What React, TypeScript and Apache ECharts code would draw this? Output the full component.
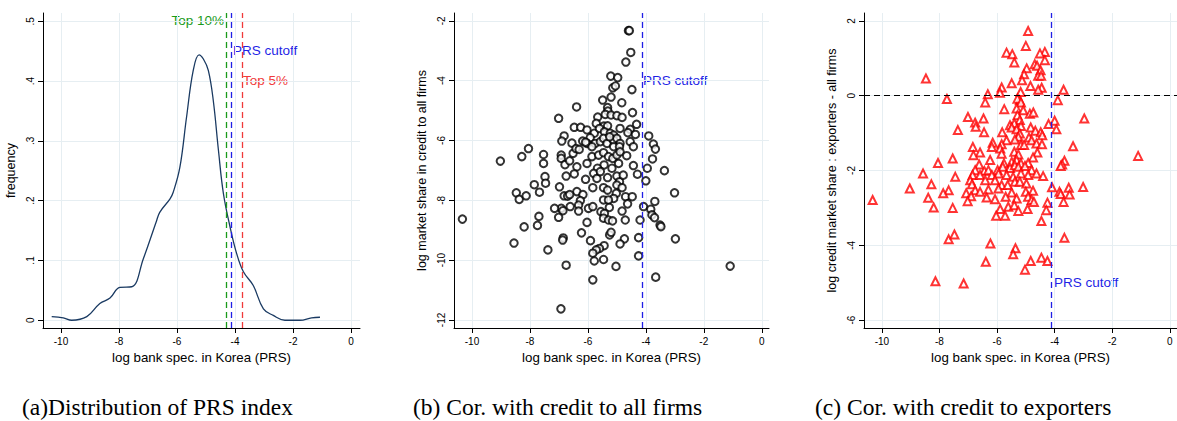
import { useEffect, useRef } from 'react';
import * as echarts from 'echarts';

// density of the PRS index (panel a)
const densityPoints: [number, number][] = [
  [-10.32, 0.006], [-9.92, 0.004], [-9.63, 0], [-9.11, 0.006], [-8.66, 0.028], [-8.31, 0.037],
  [-7.97, 0.055], [-7.56, 0.056], [-7.16, 0.103], [-6.7, 0.167], [-6.59, 0.181], [-6.24, 0.203],
  [-6.13, 0.214], [-5.9, 0.256], [-5.67, 0.34], [-5.44, 0.418], [-5.24, 0.444], [-5.09, 0.437],
  [-4.92, 0.418], [-4.75, 0.368], [-4.57, 0.284], [-4.4, 0.212], [-4.17, 0.156], [-3.94, 0.111],
  [-3.71, 0.081], [-3.37, 0.058], [-3.02, 0.019], [-2.68, 0.008], [-2.28, 0], [-1.76, 0],
  [-1.36, 0.004], [-1.07, 0.005],
];

const top10 = -4.31;
const prsCutoff = -4.13;
const top5 = -3.76;

// panel b: log market share in credit to all firms
const allFirms: [number, number][] = [
  [-4.6, -2.33], [-4.57, -2.33], [-4.52, -3.06], [-4.69, -3.38], [-5.21, -3.85], [-4.97, -3.9],
  [-5.14, -4.24], [-5.05, -4.18], [-4.48, -4.3], [-5.2, -4.55], [-5.49, -4.65], [-4.83, -4.74],
  [-6.39, -4.88], [-5.32, -4.9], [-5.31, -5.02], [-4.46, -5.07], [-7.01, -5.26], [-5.66, -5.22],
  [-5.4, -5.13], [-5.2, -5.15], [-5.0, -5.17], [-4.82, -5.23], [-5.71, -5.43], [-5.45, -5.52],
  [-5.32, -5.51], [-4.32, -5.46], [-6.47, -5.56], [-6.25, -5.56], [-6.03, -5.65], [-5.78, -5.76],
  [-5.6, -5.6], [-5.43, -5.71], [-5.23, -5.76], [-5.11, -5.82], [-4.89, -5.6], [-4.54, -5.63],
  [-4.62, -5.74], [-4.36, -5.8], [-6.82, -5.85], [-6.9, -6.02], [-6.55, -6.09], [-6.18, -6.02],
  [-5.92, -5.91], [-5.75, -6.1], [-6.03, -6.1], [-5.86, -6.21], [-5.57, -6.04], [-5.46, -5.93],
  [-5.34, -6.1], [-5.11, -5.99], [-5.0, -5.93], [-4.89, -6.1], [-5.25, -5.88], [-5.11, -6.21],
  [-4.91, -6.21], [-4.54, -6.04], [-4.43, -6.21], [-3.9, -5.85], [-3.74, -6.12], [-3.67, -6.29],
  [-8.05, -6.27], [-8.28, -6.54], [-9.02, -6.69], [-7.53, -6.47], [-7.53, -6.77], [-6.92, -6.49],
  [-6.92, -6.6], [-6.79, -6.81], [-6.63, -6.68], [-6.51, -6.43], [-6.41, -6.27], [-6.3, -6.3],
  [-6.08, -6.06], [-5.86, -6.54], [-5.63, -6.49], [-5.46, -6.41], [-5.29, -6.54], [-5.14, -6.6],
  [-5.0, -6.49], [-4.89, -6.38], [-4.66, -6.51], [-4.94, -6.77], [-5.17, -6.93], [-5.44, -6.82],
  [-5.67, -6.93], [-5.8, -7.1], [-6.03, -6.77], [-6.38, -6.88], [-4.43, -6.84], [-3.95, -6.93],
  [-3.77, -6.62], [-3.36, -7.01], [-7.48, -7.21], [-7.46, -7.43], [-6.75, -7.19], [-6.47, -7.12],
  [-6.08, -7.3], [-5.69, -7.27], [-5.57, -7.04], [-5.32, -7.24], [-5.0, -7.19], [-4.91, -7.38],
  [-4.78, -7.16], [-4.29, -7.13], [-4.0, -7.35], [-7.85, -7.48], [-7.67, -7.73], [-6.98, -7.55],
  [-6.38, -7.71], [-6.17, -7.81], [-5.83, -7.58], [-5.46, -7.58], [-5.32, -7.66], [-5.0, -7.49],
  [-4.82, -7.58], [-5.02, -7.77], [-5.11, -7.94], [-5.46, -7.99], [-5.29, -7.99], [-4.7, -7.88],
  [-4.47, -7.88], [-3.01, -7.75], [-8.47, -7.75], [-8.37, -7.97], [-8.13, -7.85], [-6.82, -7.85],
  [-6.7, -7.86], [-6.63, -7.81], [-6.26, -8.01], [-6.32, -8.16], [-6.92, -8.27], [-7.15, -8.27],
  [-6.86, -8.35], [-6.61, -8.21], [-6.32, -8.36], [-5.98, -8.27], [-5.83, -8.21], [-5.26, -8.24],
  [-4.63, -8.12], [-4.82, -8.36], [-4.08, -8.21], [-3.83, -8.3], [-3.69, -8.04], [-5.55, -8.38],
  [-5.43, -8.44], [-5.46, -8.6], [-5.29, -8.66], [-5.15, -8.69], [-6.03, -8.74], [-4.71, -8.66],
  [-4.2, -8.66], [-3.79, -8.49], [-3.7, -8.58], [-3.51, -8.83], [-3.48, -8.88], [-7.01, -8.57],
  [-7.69, -8.54], [-7.74, -8.84], [-8.2, -8.89], [-6.22, -9.09], [-5.25, -9.16], [-5.2, -9.07],
  [-4.74, -9.29], [-4.25, -9.25], [-2.98, -9.29], [-6.85, -9.26], [-6.87, -9.33], [-8.55, -9.43],
  [-7.38, -9.66], [-5.91, -9.35], [-4.89, -9.46], [-5.44, -9.52], [-5.6, -9.61], [-5.71, -9.66],
  [-5.83, -9.77], [-4.25, -9.86], [-5.78, -10.03], [-5.46, -9.98], [-6.75, -10.17], [-5.03, -10.21],
  [-1.09, -10.2], [-3.66, -10.57], [-5.83, -10.66], [-6.93, -11.63], [-10.33, -8.63],
];

// panel c: log credit market share, exporters minus all firms
const exporters: [number, number][] = [
  [-4.92, 1.73], [-5.0, 1.33], [-5.67, 1.15], [-5.47, 1.11], [-4.34, 1.17], [-4.51, 1.13],
  [-4.34, 0.95], [-5.4, 0.89], [-4.69, 0.84], [-4.61, 0.8], [-4.97, 0.73], [-4.49, 0.68],
  [-5.06, 0.57], [-4.57, 0.53], [-4.47, 0.53], [-5.13, 0.41], [-8.47, 0.46], [-5.49, 0.33],
  [-4.84, 0.26], [-5.84, 0.22], [-4.45, 0.21], [-4.57, 0.16], [-3.69, 0.16], [-5.9, 0.08],
  [-5.18, 0.1], [-6.32, 0.04], [-7.74, -0.09], [-5.21, -0.12], [-5.29, -0.08], [-3.89, -0.12],
  [-6.41, -0.18], [-5.75, -0.36], [-5.17, -0.18], [-5.32, -0.34], [-5.09, -0.39], [-4.86, -0.48],
  [-4.74, -0.45], [-5.29, -0.52], [-7.01, -0.57], [-6.47, -0.61], [-2.97, -0.61], [-5.21, -0.65],
  [-6.76, -0.72], [-4.0, -0.67], [-4.21, -0.76], [-5.55, -0.79], [-5.4, -0.74], [-5.17, -0.81],
  [-6.74, -0.83], [-5.49, -0.85], [-4.83, -0.85], [-4.67, -0.94], [-3.94, -0.9], [-7.36, -0.92],
  [-5.32, -0.9], [-5.82, -0.98], [-5.21, -1.01], [-4.48, -0.98], [-4.43, -1.06], [-6.45, -0.98],
  [-5.26, -1.1], [-5.38, -1.17], [-4.89, -1.12], [-4.8, -1.19], [-5.67, -1.19], [-6.15, -1.26],
  [-5.84, -1.3], [-5.17, -1.32], [-5.06, -1.32], [-4.63, -1.28], [-4.44, -1.3], [-3.36, -1.35],
  [-6.18, -1.37], [-5.89, -1.41], [-6.84, -1.37], [-5.4, -1.5], [-5.26, -1.57], [-4.6, -1.52],
  [-6.59, -1.52], [-5.84, -1.55], [-6.82, -1.59], [-7.54, -1.68], [-4.75, -1.65], [-1.1, -1.61],
  [-3.66, -1.74], [-8.05, -1.8], [-6.24, -1.72], [-5.76, -1.81], [-5.49, -1.77], [-5.32, -1.72],
  [-5.17, -1.81], [-4.92, -1.8], [-3.74, -1.84], [-3.79, -1.88], [-6.62, -1.84], [-6.76, -1.99],
  [-6.44, -2.01], [-5.98, -1.99], [-5.8, -1.9], [-5.55, -1.93], [-5.38, -1.86], [-5.26, -1.9],
  [-5.03, -1.88], [-4.8, -1.99], [-6.3, -1.99], [-8.57, -2.08], [-7.45, -2.17], [-6.85, -2.12],
  [-6.59, -2.12], [-6.18, -2.12], [-5.95, -2.08], [-5.67, -2.12], [-5.44, -2.17], [-5.17, -2.08],
  [-4.92, -2.12], [-4.63, -2.08], [-4.4, -2.15], [-6.93, -2.26], [-6.41, -2.26], [-6.07, -2.26],
  [-5.38, -2.3], [-5.21, -2.3], [-4.98, -2.35], [-8.28, -2.37], [-6.87, -2.37], [-5.84, -2.39],
  [-5.63, -2.39], [-9.03, -2.48], [-4.09, -2.45], [-3.51, -2.46], [-3.01, -2.44], [-7.68, -2.53],
  [-6.76, -2.53], [-6.3, -2.51], [-5.95, -2.48], [-5.49, -2.59], [-5.0, -2.57], [-4.75, -2.54],
  [-7.87, -2.61], [-7.07, -2.61], [-6.59, -2.57], [-3.83, -2.57], [-3.79, -2.63], [-3.48, -2.64],
  [-8.39, -2.73], [-6.9, -2.69], [-6.36, -2.72], [-5.7, -2.7], [-5.32, -2.75], [-4.92, -2.7],
  [-4.8, -2.79], [-4.72, -2.84], [-6.07, -2.77], [-7.02, -2.82], [-10.32, -2.79], [-4.25, -2.86],
  [-3.69, -2.84], [-8.2, -2.99], [-7.54, -3.0], [-5.61, -2.97], [-5.4, -2.93], [-4.94, -3.03],
  [-5.89, -3.03], [-4.29, -3.06], [-5.26, -3.08], [-6.03, -3.21], [-5.72, -3.21], [-4.46, -3.35],
  [-7.68, -3.84], [-7.48, -3.71], [-3.66, -3.8], [-6.23, -3.95], [-5.36, -4.08], [-5.44, -4.24],
  [-6.39, -4.44], [-4.83, -4.42], [-4.46, -4.33], [-4.25, -4.42], [-5.03, -4.65], [-8.14, -4.96],
  [-7.16, -5.02],
];

const xTicks = [-10, -8, -6, -4, -2, 0];
const yTicksA = [0, 0.1, 0.2, 0.3, 0.4, 0.5];
const yTicksB = [-12, -10, -8, -6, -4, -2];
const yTicksC = [-6, -4, -2, 0, 2];

const xName = 'log bank spec. in Korea (PRS)';
const sans = 'Liberation Sans';
const gridColor = '#e6eef2';

function xAxis(gridIndex: number, max: number) {
  return {
    type: 'value', gridIndex, min: -10.62, max,
    name: xName, nameLocation: 'middle', nameGap: 18,
    nameTextStyle: { fontFamily: sans, fontSize: 13.3, color: '#000' },
    axisLine: { onZero: false, lineStyle: { color: '#000' } },
    axisTick: { customValues: xTicks, length: 5, lineStyle: { color: '#000' } },
    axisLabel: { customValues: xTicks, fontFamily: sans, fontSize: 10, color: '#000', margin: 8 },
    splitLine: { show: true, lineStyle: { color: gridColor } },
  };
}

function yAxis(gridIndex: number, min: number, max: number, ticks: number[], name: string, fmt?: (v: number) => string) {
  return {
    type: 'value', gridIndex, min, max,
    name, nameLocation: 'middle', nameGap: 26, nameRotate: 90,
    nameTextStyle: { fontFamily: sans, fontSize: 12.5, color: '#000' },
    axisLine: { show: true, onZero: false, lineStyle: { color: '#000' } },
    axisTick: { show: true, customValues: ticks, length: 5, lineStyle: { color: '#000' } },
    axisLabel: {
      customValues: ticks, rotate: 90, fontFamily: sans, fontSize: 10, color: '#000', margin: 8,
      formatter: fmt ?? ((v: number) => String(v)),
    },
    splitLine: { show: true, lineStyle: { color: gridColor } },
  };
}

function vLine(x: number, color: string) {
  return { xAxis: x, lineStyle: { color, type: [6, 4], width: 1.3 } };
}

export default function App() {
  const ref = useRef<HTMLDivElement>(null);

  useEffect(() => {
    document.body.style.margin = '0';
    if (!ref.current) return;
    const chart = echarts.init(ref.current, null, { renderer: 'svg' });

    const label = (text: string, x: number, y: number, color: string, align = 'left') => ({
      type: 'text', x, y,
      style: { text, fill: color, font: `13.5px ${sans}`, align, verticalAlign: 'middle' },
    });
    const caption = (text: string, x: number) => ({
      type: 'text', x, y: 407,
      style: { text, fill: '#000', font: '23.5px "Liberation Serif"', verticalAlign: 'middle' },
    });

    chart.setOption({
      animation: false,
      grid: [
        { left: 43, top: 13, width: 317, height: 315 },
        { left: 454, top: 13, width: 315, height: 315 },
        { left: 864, top: 13, width: 316, height: 315 },
      ],
      xAxis: [xAxis(0, 0.31), xAxis(1, 0.25), xAxis(2, 0.25)],
      yAxis: [
        yAxis(0, -0.013, 0.514, yTicksA, 'frequency', (v: number) => (v === 0 ? '0' : String(v).replace('0.', '.'))),
        yAxis(1, -12.27, -1.74, yTicksB, 'log market share in credit to all firms'),
        yAxis(2, -6.21, 2.21, yTicksC, 'log credit market share : exporters - all firms'),
      ],
      series: [
        {
          type: 'line', xAxisIndex: 0, yAxisIndex: 0, data: densityPoints, smooth: 0.4,
          showSymbol: false, lineStyle: { color: '#1a3a62', width: 1.3 },
          markLine: {
            symbol: 'none', silent: true, label: { show: false },
            data: [vLine(top10, '#1a9a1a'), vLine(prsCutoff, '#1f1fe6'), vLine(top5, '#f03a3a')],
          },
        },
        {
          type: 'scatter', xAxisIndex: 1, yAxisIndex: 1, data: allFirms,
          symbol: 'emptyCircle', symbolSize: 7.5,
          itemStyle: { color: '#000', borderColor: '#000', borderWidth: 0.9 },
          markLine: {
            symbol: 'none', silent: true, label: { show: false },
            data: [vLine(prsCutoff, '#1f1fe6')],
          },
        },
        {
          type: 'scatter', xAxisIndex: 2, yAxisIndex: 2, data: exporters,
          symbol: 'emptyTriangle', symbolSize: 8,
          itemStyle: { color: '#f00', borderColor: '#f00', borderWidth: 1 },
          markLine: {
            symbol: 'none', silent: true, label: { show: false },
            data: [
              vLine(prsCutoff, '#1f1fe6'),
              { yAxis: 0, lineStyle: { color: '#000', type: [6, 4], width: 1.2 } },
            ],
          },
        },
      ],
      graphic: [
        label('Top 10%', 224, 20, '#1a9a1a', 'right'),
        label('PRS cutoff', 233, 50, '#1f1fe6'),
        label('Top 5%', 243, 80, '#f03a3a'),
        label('PRS cutoff', 643, 80, '#1f1fe6'),
        label('PRS cutoff', 1054, 282, '#1f1fe6'),
        caption('(a)Distribution of PRS index', 22),
        caption('(b) Cor. with credit to all firms', 413),
        caption('(c) Cor. with credit to exporters', 815),
      ],
    });

    return () => chart.dispose();
  }, []);

  return <div ref={ref} style={{ width: 1177, height: 421 }} />;
}
